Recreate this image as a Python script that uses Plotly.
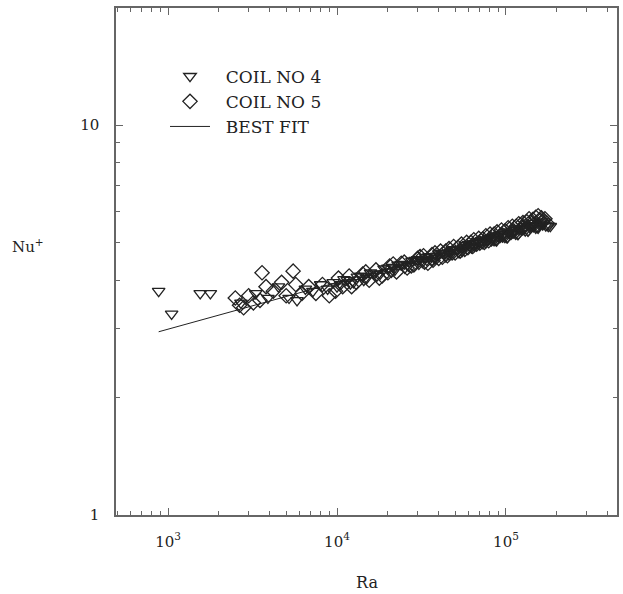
import plotly.graph_objects as go

# Coil No 4 measurements (Rayleigh number, Nusselt number)
coil4_ra = [880, 1050, 1550, 1780, 2700, 3300, 3900, 4500, 5200, 5800,
            6500, 7200, 8000, 8800, 9500, 10500, 11500, 12500, 13800, 15000,
            16500, 18000, 20000, 22000, 24000, 26500, 29000, 32000, 35000, 38000,
            42000, 46000, 50000, 55000, 60000, 65000, 70000, 76000, 82000, 88000,
            95000, 102000, 110000, 118000, 126000, 135000, 145000, 155000, 165000, 178000,
            10000, 11000, 12000, 13200, 14400, 15800, 17200, 19000, 21000, 23000,
            25200, 27800, 30500, 33500, 36500, 40000, 44000, 48000, 52500, 57500,
            62500, 67500, 73000, 79000, 85000, 91500, 98500, 106000, 114000, 122000,
            130000, 140000, 150000, 160000, 172000, 183000,
            21500, 26000, 30000, 34000, 39000, 43000, 47000, 51000, 56000, 61000,
            66000, 71500, 77500, 83500, 90000, 97000, 104000, 112000, 120000, 129000,
            138000, 148000, 158000, 168000]
coil4_nu = [3.75, 3.28, 3.70, 3.70, 3.50, 3.70, 3.60, 3.85, 3.60, 3.55,
            3.80, 3.75, 3.90, 3.80, 3.95, 3.90, 4.00, 3.95, 4.10, 4.05,
            4.15, 4.15, 4.30, 4.25, 4.40, 4.35, 4.50, 4.45, 4.60, 4.55,
            4.70, 4.65, 4.80, 4.75, 4.95, 4.90, 5.00, 5.00, 5.10, 5.05,
            5.20, 5.15, 5.30, 5.25, 5.40, 5.35, 5.50, 5.45, 5.55, 5.50,
            3.85, 4.02, 3.92, 4.08, 4.00, 4.18, 4.10, 4.28, 4.20, 4.38,
            4.30, 4.48, 4.40, 4.58, 4.50, 4.68, 4.60, 4.78, 4.72, 4.92,
            4.85, 5.03, 4.97, 5.12, 5.06, 5.23, 5.16, 5.33, 5.26, 5.43,
            5.36, 5.53, 5.45, 5.62, 5.52, 5.50,
            4.32, 4.38, 4.52, 4.50, 4.62, 4.68, 4.72, 4.80, 4.85, 4.88,
            4.98, 5.05, 5.08, 5.15, 5.18, 5.25, 5.28, 5.38, 5.40, 5.50,
            5.48, 5.60, 5.58, 5.65]

# Coil No 5 measurements
coil5_ra = [2500, 2650, 2800, 3000, 3200, 3500, 3600, 3800, 4200, 4700,
            5000, 5500, 5700, 6200, 6800, 7500, 8200, 9000, 9800, 10800,
            11800, 13000, 14200, 15500, 17000, 18500, 20500, 22500, 25000, 27500,
            30000, 33000, 36500, 40000, 44000, 48000, 52000, 57000, 62000, 67000,
            73000, 79000, 85000, 92000, 99000, 107000, 115000, 124000, 133000, 142000,
            150000, 160000, 170000,
            10200, 12200, 14800, 17800, 21500, 26000, 31000, 34500, 38000, 42000,
            46000, 50000, 54500, 59500, 64500, 70000, 76000, 82000, 88500, 95500,
            103000, 111000, 119000, 128000, 137000, 146000, 155000, 165000,
            20000, 24000, 28500, 32500, 37000, 41000, 45000, 49000, 53500, 58500,
            63500, 69000, 74500, 80500, 87000, 94000, 101000, 109000, 117000, 126000,
            135000, 144000, 153000, 162000, 175000]
coil5_nu = [3.60, 3.45, 3.40, 3.65, 3.50, 3.55, 4.18, 3.85, 3.75, 3.95,
            3.65, 4.22, 3.90, 3.70, 3.85, 3.70, 3.90, 3.65, 3.75, 3.85,
            4.10, 3.95, 4.15, 4.00, 4.25, 4.10, 4.35, 4.20, 4.45, 4.35,
            4.55, 4.45, 4.65, 4.55, 4.75, 4.70, 4.85, 4.80, 5.00, 4.95,
            5.10, 5.05, 5.25, 5.20, 5.35, 5.30, 5.50, 5.45, 5.65, 5.60,
            5.80, 5.70, 5.75,
            4.05, 3.85, 4.20, 4.05, 4.40, 4.30, 4.60, 4.42, 4.70, 4.58,
            4.82, 4.70, 4.95, 4.85, 5.08, 4.98, 5.20, 5.10, 5.32, 5.22,
            5.45, 5.35, 5.58, 5.48, 5.75, 5.55, 5.85, 5.65,
            4.18, 4.42, 4.38, 4.62, 4.50, 4.75, 4.62, 4.88, 4.75, 5.00,
            4.88, 5.12, 5.00, 5.25, 5.12, 5.38, 5.20, 5.50, 5.30, 5.62,
            5.42, 5.72, 5.52, 5.78, 5.60]

# Correlation line end points
fit_ra = [880, 185000]
fit_nu = [2.95, 5.60]

x_tickvals = [1e3, 1e4, 1e5]
x_ticktext = ["10<sup>3</sup>", "10<sup>4</sup>", "10<sup>5</sup>"]
y_tickvals = [1, 10]
y_ticktext = ["1", "10"]

FONT = "DejaVu Serif"
INK = "#222222"
FRAME = "#666666"
GAP = "\u00a0\u00a0"  # extra room between legend symbol and label

fig = go.Figure()

fig.add_trace(go.Scatter(
    x=fit_ra, y=fit_nu, mode="lines", name=GAP + "BEST FIT",
    line=dict(color=INK, width=1), legendrank=3,
))
fig.add_trace(go.Scatter(
    x=coil4_ra, y=coil4_nu, mode="markers", name=GAP + "COIL NO 4",
    marker=dict(symbol="triangle-down-open", size=11, color=INK, line=dict(width=1.3)),
    legendrank=1,
))
fig.add_trace(go.Scatter(
    x=coil5_ra, y=coil5_nu, mode="markers", name=GAP + "COIL NO 5",
    marker=dict(symbol="diamond-open", size=11, color=INK, line=dict(width=1.3)),
    legendrank=2,
))

axis_common = dict(
    showgrid=False, zeroline=False, showline=True, linecolor=FRAME, linewidth=1.5,
    mirror="allticks", ticks="inside", ticklen=7, tickcolor=FRAME, tickwidth=1,
    tickfont=dict(family=FONT, size=15, color=INK), ticklabelstandoff=12,
    automargin=False,
)

fig.update_xaxes(
    type="log", range=[2.692, 5.657],
    tickmode="array", tickvals=x_tickvals, ticktext=x_ticktext,
    minor=dict(ticks="inside", ticklen=4, tickcolor=FRAME, dtick="D1", showgrid=False),
    **axis_common,
)
fig.update_yaxes(
    type="log", range=[0, 1.3],
    tickmode="array", tickvals=y_tickvals, ticktext=y_ticktext,
    minor=dict(ticks="inside", ticklen=4, tickcolor=FRAME, dtick="D1", showgrid=False),
    **axis_common,
)

# Axis titles
fig.add_annotation(
    text="Ra", xref="paper", yref="paper",
    x=0.5, y=-0.134, showarrow=False, xanchor="center", yanchor="middle",
    font=dict(family=FONT, size=16, color=INK),
)
fig.add_annotation(
    text="Nu<sup>+</sup>", xref="paper", yref="paper",
    x=-0.175, y=0.53, showarrow=False, xanchor="center", yanchor="middle",
    font=dict(family=FONT, size=15, color=INK),
)

fig.update_layout(
    width=623, height=594,
    margin=dict(l=116, r=6, t=8, b=79),
    paper_bgcolor="white", plot_bgcolor="white",
    showlegend=True,
    legend=dict(
        x=(165 - 116) / 501, y=0.9, xanchor="left", yanchor="top",
        bgcolor="rgba(0,0,0,0)", borderwidth=0,
        font=dict(family=FONT, size=17, color=INK),
        itemwidth=40, tracegroupgap=0,
    ),
)

fig.write_html("out.html")
